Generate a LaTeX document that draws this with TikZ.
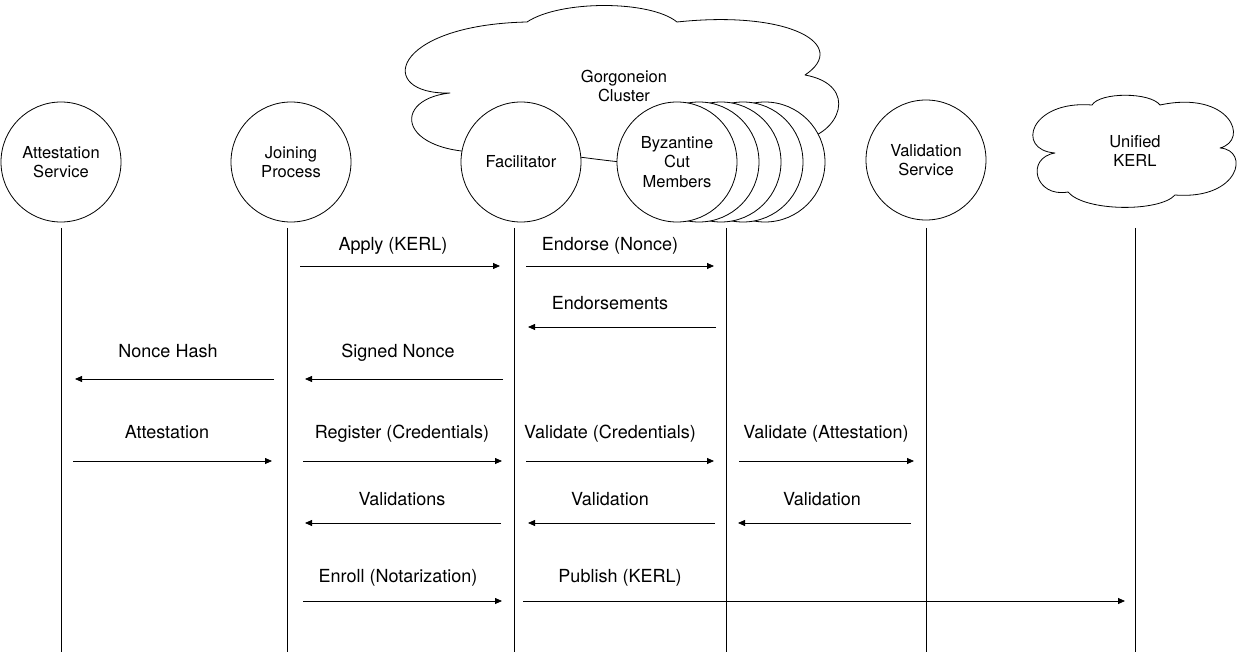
\documentclass[tikz,border=0pt]{standalone}
\usepackage{fontspec}
\setmainfont{TeX Gyre Heros}
\usetikzlibrary{arrows.meta,calc}

\tikzset{
  actor/.style={circle, draw, fill=white, line width=0.8pt, minimum size=120pt,
    inner sep=0pt, align=center, font=\fontsize{16.5}{19.5}\selectfont},
  cloudline/.style={draw, fill=white, line width=0.8pt, line join=round},
  cloudtext/.style={align=center, font=\fontsize{16.5}{19.5}\selectfont},
  lifeline/.style={line width=0.8pt},
  msg/.style={line width=0.8pt, -{Triangle[length=7pt,width=6pt]}},
  msglabel/.style={anchor=base, inner sep=0pt, font=\fontsize{18}{22}\selectfont}
}

\begin{document}
\begin{tikzpicture}[x=1pt, y=-1pt]
    \useasboundingbox (0,0) rectangle (1248,652);

    % Gorgoneion cloud behind the cluster members
    \draw[cloudline] (527,22) .. controls (390,25) and (375,95) .. (450,93)
        .. controls (385,100) and (400,165) .. (515,150)
        .. controls (560,150) and (760,195) .. (800,140)
        .. controls (840,135) and (860,85) .. (805,75)
        .. controls (850,45) and (790,10) .. (677,22)
        .. controls (650,0) and (560,0) .. (527,22) -- cycle;
    \node[cloudtext] (gorg) at (624,86) {Gorgoneion\\Cluster};

    % Unified KERL cloud
    \draw[cloudline] (1092,105) .. controls (1030,100) and (1015,150) .. (1055,153)
        .. controls (1025,158) and (1035,198) .. (1068,192)
        .. controls (1085,212) and (1160,212) .. (1175,195)
        .. controls (1240,200) and (1250,150) .. (1220,148)
        .. controls (1250,140) and (1230,90) .. (1160,105)
        .. controls (1150,92) and (1100,92) .. (1092,105) -- cycle;
    \node[cloudtext] (kerl) at (1135,151) {Unified\\KERL};

    % Participants
    \node[actor] (att) at (61,162) {Attestation\\Service};
    \node[actor] (join) at (291,162) {Joining\\Process};
    \node[actor] (fac) at (521,162) {Facilitator};
    \foreach \i in {4,3,2,1} {
      \node[actor] (byz\i) at (677+22*\i,162) {};
    }
    \node[actor] (byz) at (677,162) {Byzantine\\Cut\\Members};
    \node[actor] (val) at (926,160) {Validation\\Service};

    % Lifelines
    \foreach \n/\x in {att/61, join/287, fac/514, byz/726, val/926, kerl/1135} {
      \coordinate (\n-top) at (\x,228);
      \coordinate (\n-bot) at (\x,652);
      \draw[lifeline] (\n-top) -- (\n-bot);
    }

    % Messages: from/to/y/start gap/end gap
    \foreach \a/\b/\y/\sa/\sb in {join/fac/266/13/-14, fac/byz/266/12/-12,
        byz/fac/327/-10/14, join/att/379/-13/14, fac/join/379/-11/18,
        att/join/461/12/-15, join/fac/461/16/-12, fac/byz/461/12/-12,
        byz/val/461/13/-12, fac/join/523/-13/18, byz/fac/523/-11/14,
        val/byz/523/-15/12, join/fac/601/16/-12, fac/kerl/601/9/-10} {
      \draw[msg] ($(\a-top |- 0,\y)+(\sa,0)$) -- ($(\b-top |- 0,\y)+(\sb,0)$);
    }

    % Message labels
    \foreach \x/\y/\txt [count=\i] in {393/251/Apply (KERL), 610/251/Endorse (Nonce),
        610/310/Endorsements, 168/357/Nonce Hash, 398/357/Signed Nonce,
        167/438/Attestation, 402/438/Register (Credentials),
        610/438/Validate (Credentials), 826/438/Validate (Attestation),
        402/505/Validations, 610/505/Validation, 822/505/Validation,
        398/582/Enroll (Notarization), 620/582/Publish (KERL)} {
      \node[msglabel] (lbl\i) at (\x,\y) {\txt};
    }
\end{tikzpicture}
\end{document}
